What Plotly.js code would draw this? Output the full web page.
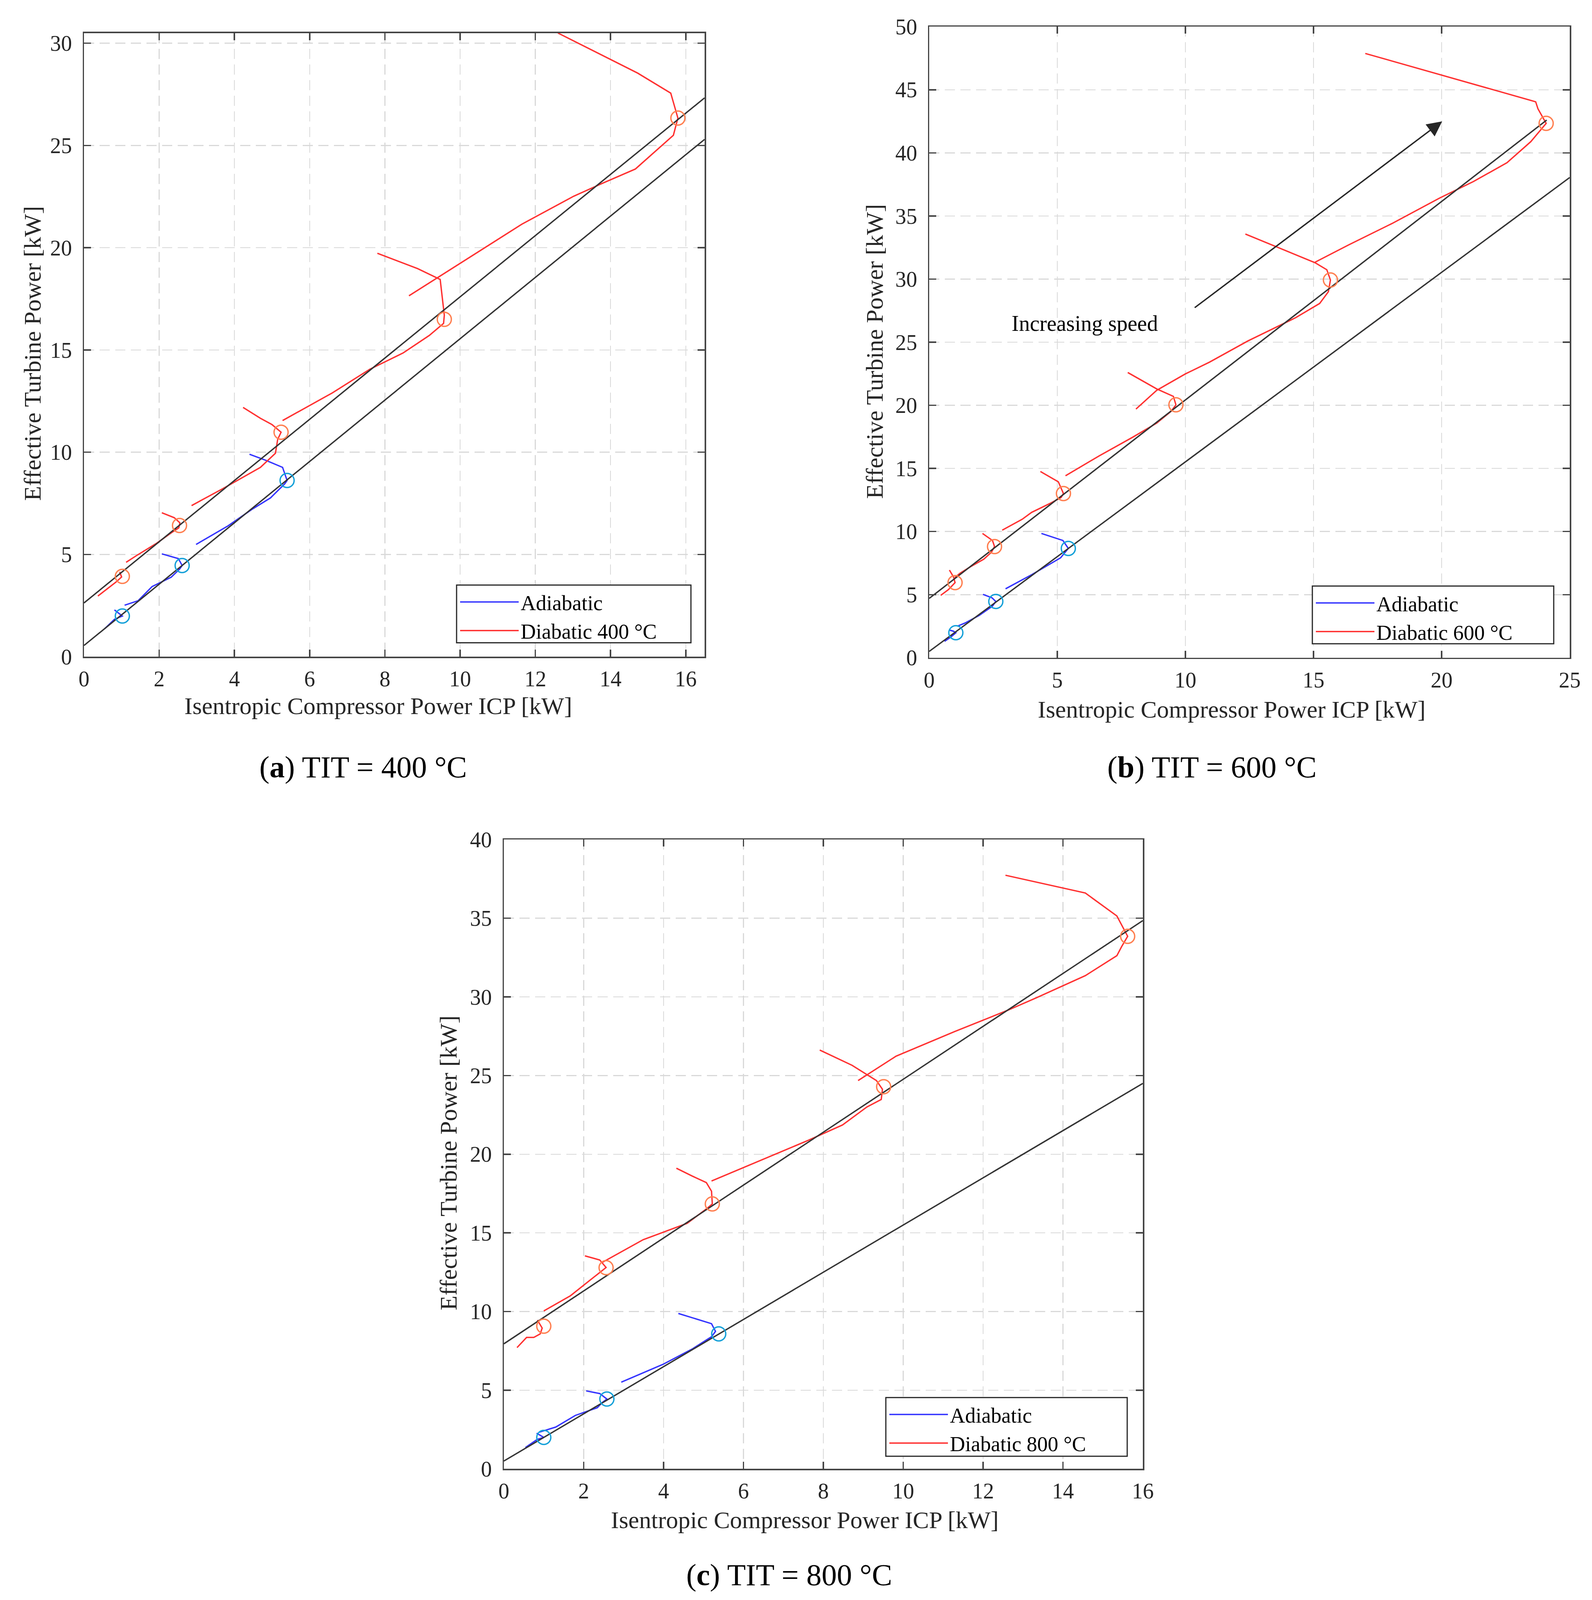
<!DOCTYPE html>
<html>
<head>
<meta charset="utf-8">
<script src="https://cdn.plot.ly/plotly-3.0.1.min.js"></script>
<style>html,body{margin:0;padding:0;background:#fff;overflow:hidden;}</style>
</head>
<body>
<div id="chart" style="width:4076px;height:4096px;"></div>
<script>
// ---------- Panel (a) TIT = 400 °C ----------
const a_adi_x = [[0.55,0.81,1.02,0.81],[1.08,1.44,1.81,2.32,2.54,2.61,2.51,2.07],[2.98,3.83,4.46,4.96,5.34,5.40,5.28,4.84,4.40]];
const a_adi_y = [[1.37,1.83,1.99,2.29],[2.52,2.74,3.43,3.89,4.28,4.46,4.80,5.03],[5.49,6.40,7.20,7.77,8.46,8.62,9.26,9.60,9.90]];
const a_dia_x = [[0.37,0.60,0.85,1.00,0.95],[1.12,1.40,1.94,2.32,2.52,2.55,2.40,2.07],[2.86,3.70,4.69,5.09,5.15,5.24,5.00,4.69,4.23],[5.28,6.60,7.60,8.49,9.18,9.56,9.58,9.47,8.87,7.80],[8.64,10.38,11.64,13.02,13.72,14.66,15.67,15.79,15.60,14.72,12.60]];
const a_dia_y = [[2.97,3.30,3.65,3.90,4.15],[4.62,4.95,5.56,6.06,6.30,6.55,6.80,7.04],[7.39,8.23,9.26,9.95,10.63,10.98,11.35,11.66,12.19],[11.55,12.90,14.06,14.86,15.71,16.30,16.70,18.45,18.98,19.73],[17.65,19.67,21.15,22.52,23.10,23.85,25.50,26.34,27.56,28.54,30.50]];
const a_adi_cx = [1.02,2.61,5.40], a_adi_cy = [1.99,4.46,8.62];
const a_dia_cx = [1.02,2.54,5.24,9.58,15.79], a_dia_cy = [3.93,6.42,10.98,16.50,26.34];
const a_low_x = [0,16.5], a_low_y = [0.55,25.30];
const a_up_x = [0,16.5], a_up_y = [2.63,27.33];

// ---------- Panel (b) TIT = 600 °C ----------
const b_adi_x = [[0.60,0.85,1.04,0.95,0.78],[1.10,1.40,1.95,2.47,2.60,2.45,2.10],[2.98,4.00,5.13,5.43,5.22,4.38]];
const b_adi_y = [[1.30,1.65,1.98,2.10,2.20],[2.50,2.75,3.35,4.09,4.46,4.75,5.02],[5.46,6.58,7.92,8.66,9.29,9.85]];
const b_dia_x = [[0.45,0.75,0.92,1.01,0.95,0.79],[1.00,1.20,1.60,2.13,2.43,2.55,2.47,2.08],[2.85,3.63,4.00,4.76,5.15,5.24,5.04,4.34],[5.32,6.63,7.94,8.88,9.44,9.63,9.53,8.88,7.75],[8.07,8.88,10.00,10.94,12.43,14.31,15.24,15.58,15.66,15.52,15.06,12.34],[15.06,16.37,18.05,19.93,21.24,22.55,23.48,23.86,24.08,23.76,23.67,17.02]];
const b_dia_y = [[4.94,5.40,5.76,5.95,6.40,6.95],[6.35,6.69,7.20,7.81,8.36,8.81,9.29,9.85],[10.11,10.97,11.52,12.27,12.70,13.01,13.94,14.76],[14.42,15.99,17.47,18.59,19.52,20.04,20.71,21.30,22.60],[19.70,21.19,22.49,23.42,25.09,26.95,28.07,29.00,29.93,30.74,31.30,33.57],[31.34,32.71,34.39,36.43,37.73,39.22,40.89,41.82,42.34,43.49,44.05,47.88]];
const b_adi_cx = [1.04,2.60,5.43], b_adi_cy = [1.98,4.46,8.66];
const b_dia_cx = [1.01,2.55,5.24,9.63,15.66,24.08], b_dia_cy = [5.95,8.81,13.01,20.04,29.93,42.34];
const b_low_x = [0,25], b_low_y = [0.50,38.05];
const b_up_x = [0,24.1], b_up_y = [4.70,42.60];
const b_arrow_from = [10.34,27.70], b_arrow_to = [20.02,42.50];
const b_note_xy = [6.07,26.5];

// ---------- Panel (c) TIT = 800 °C ----------
const c_adi_x = [[0.54,0.84,1.00,0.82],[0.88,1.30,1.79,2.34,2.46,2.58,2.40,2.06],[2.94,3.98,4.71,5.20,5.30,5.20,4.37]];
const c_adi_y = [[1.36,1.88,2.00,2.27],[2.33,2.66,3.40,3.89,4.21,4.44,4.79,4.96],[5.51,6.64,7.61,8.40,8.74,9.23,9.88]];
const c_dia_x = [[0.33,0.57,0.75,0.91,0.96,0.84],[1.00,1.67,2.15,2.46,2.56,2.40,2.03],[2.46,3.49,4.59,5.07,5.22,5.20,5.07,4.71,4.32],[5.20,6.41,7.63,8.48,9.09,9.45,9.48,9.33,8.72,7.91],[8.87,9.82,11.28,12.62,13.35,14.56,15.35,15.47,15.62,15.35,14.56,12.56]];
const c_dia_y = [[7.71,8.36,8.36,8.58,8.95,9.46],[10.04,11.01,11.98,12.60,12.80,13.28,13.54],[13.12,14.57,15.61,16.52,16.84,17.65,18.20,18.62,19.11],[18.30,19.60,20.89,21.86,23.00,23.48,24.13,24.68,25.65,26.62],[24.68,26.23,27.79,29.15,29.96,31.35,32.62,33.20,33.85,35.14,36.60,37.73]];
const c_adi_cx = [1.00,2.58,5.38], c_adi_cy = [2.00,4.44,8.58];
const c_dia_cx = [1.00,2.56,5.22,9.51,15.62], c_dia_cy = [9.07,12.79,16.84,24.29,33.85];
const c_low_x = [0,16], c_low_y = [0.50,24.50];
const c_up_x = [0,16], c_up_y = [7.95,34.85];

// ---------- Labels ----------
const xTitle = 'Isentropic Compressor Power ICP [kW]';
const yTitle = 'Effective Turbine Power [kW]';
const legendAdi = 'Adiabatic';
const legendDia = ['Diabatic 400 °C','Diabatic 600 °C','Diabatic 800 °C'];
const captions = ['(<b>a</b>) TIT = 400 °C','(<b>b</b>) TIT = 600 °C','(<b>c</b>) TIT = 800 °C'];
const noteText = 'Increasing speed';

// ---------- Styling ----------
const W = 4076, H = 4096;        // visible frame
const REF_W = 4076, REF_H = 4797; // reference frame used for proportional placement
const FONT = 'Liberation Serif, Times New Roman, serif';
const BLUE = '#3333ff', RED = '#ff3030', BLUE_C = '#14a0d8', RED_C = '#ff7f50', REF = '#333333';
const px = v => v / REF_W, py = v => 1 - v / REF_H;

const panels = [
  {xa:'x', ya:'y', leg:'legend', adiX:a_adi_x, adiY:a_adi_y, diaX:a_dia_x, diaY:a_dia_y, acx:a_adi_cx, acy:a_adi_cy, dcx:a_dia_cx, dcy:a_dia_cy, lowX:a_low_x, lowY:a_low_y, upX:a_up_x, upY:a_up_y, dia:legendDia[0]},
  {xa:'x2', ya:'y2', leg:'legend2', adiX:b_adi_x, adiY:b_adi_y, diaX:b_dia_x, diaY:b_dia_y, acx:b_adi_cx, acy:b_adi_cy, dcx:b_dia_cx, dcy:b_dia_cy, lowX:b_low_x, lowY:b_low_y, upX:b_up_x, upY:b_up_y, dia:legendDia[1]},
  {xa:'x3', ya:'y3', leg:'legend3', adiX:c_adi_x, adiY:c_adi_y, diaX:c_dia_x, diaY:c_dia_y, acx:c_adi_cx, acy:c_adi_cy, dcx:c_dia_cx, dcy:c_dia_cy, lowX:c_low_x, lowY:c_low_y, upX:c_up_x, upY:c_up_y, dia:legendDia[2]}
];

const traces = [];
panels.forEach(p => {
  p.adiX.forEach((xs, i) => traces.push({x:xs, y:p.adiY[i], xaxis:p.xa, yaxis:p.ya, mode:'lines', name:legendAdi, legend:p.leg, showlegend:i===0, line:{color:BLUE, width:3.5}, hoverinfo:'skip'}));
  p.diaX.forEach((xs, i) => traces.push({x:xs, y:p.diaY[i], xaxis:p.xa, yaxis:p.ya, mode:'lines', name:p.dia, legend:p.leg, showlegend:i===0, line:{color:RED, width:3.5}, hoverinfo:'skip'}));
  traces.push({x:p.lowX, y:p.lowY, xaxis:p.xa, yaxis:p.ya, mode:'lines', showlegend:false, line:{color:REF, width:3.5}, hoverinfo:'skip'});
  traces.push({x:p.upX, y:p.upY, xaxis:p.xa, yaxis:p.ya, mode:'lines', showlegend:false, line:{color:REF, width:3.5}, hoverinfo:'skip'});
  traces.push({x:p.acx, y:p.acy, xaxis:p.xa, yaxis:p.ya, mode:'markers', showlegend:false, marker:{symbol:'circle-open', size:36, color:BLUE_C, line:{width:3.5, color:BLUE_C}}, hoverinfo:'skip'});
  traces.push({x:p.dcx, y:p.dcy, xaxis:p.xa, yaxis:p.ya, mode:'markers', showlegend:false, marker:{symbol:'circle-open', size:36, color:RED_C, line:{width:3.5, color:RED_C}}, hoverinfo:'skip'});
});

function axis(domain, range, dtick, anchor, standoff) {
  return {
    domain: domain, range: range, dtick: dtick, tick0: 0, anchor: anchor,
    showgrid: true, gridcolor: '#d9d9d9', gridwidth: 2.5, griddash: '26px,14px',
    zeroline: false, showline: true, linecolor: '#444444', linewidth: 3.5, mirror: 'ticks',
    ticks: 'inside', ticklen: 18, tickwidth: 3.5, tickcolor: '#444444',
    tickfont: {family: FONT, size: 56, color: '#262626'}, ticklabelstandoff: standoff,
    fixedrange: true
  };
}

const legendCommon = {xanchor:'left', yanchor:'top', bgcolor:'rgba(0,0,0,0)', borderwidth:0,
  font:{family:FONT, size:54, color:'#000000'}, itemwidth:150, tracegroupgap:0};

// legend boxes [left, top, right, bottom] in reference pixels
const legBox = [[1169,1754,1769,1927],[3360,1757,3978,1930],[2268,4190,2886,4366]];

const layout = {
  width: W, height: H, margin: {l:0, r:0, t:0, b:0}, paper_bgcolor:'#ffffff', plot_bgcolor:'#ffffff',
  showlegend: true,
  xaxis:  axis([px(215), px(1804)], [0, 16.5], 2, 'y', 5),
  yaxis:  axis([py(1969), py(99)], [0, 30.5], 5, 'x', 16),
  xaxis2: axis([px(2379), px(4019)], [0, 25], 5, 'y2', 5),
  yaxis2: axis([py(1972), py(80)], [0, 50], 5, 'x2', 16),
  xaxis3: axis([px(1290), px(2926)], [0, 16], 2, 'y3', 5),
  yaxis3: axis([py(4404), py(2517)], [0, 40], 5, 'x3', 16),
  legend:  Object.assign({x:px(legBox[0][0] + 4), y:py(legBox[0][1] + 2)}, legendCommon),
  legend2: Object.assign({x:px(legBox[1][0] + 4), y:py(legBox[1][1] + 2)}, legendCommon),
  legend3: Object.assign({x:px(legBox[2][0] + 4), y:py(legBox[2][1] + 2)}, legendCommon),
  shapes: legBox.map(b => ({type:'rect', xref:'paper', yref:'paper', x0:px(b[0]), x1:px(b[2]), y0:py(b[3]), y1:py(b[1]),
    fillcolor:'#ffffff', line:{color:'#262626', width:3}, layer:'above'})),
  annotations: []
};

const titleFont = {family: FONT, size: 62, color: '#262626'};
const xTitlePos = [[968, 2116], [3153, 2127], [2060, 4557]];
const yTitlePos = [[83, 1060], [2239, 1054], [1148, 3487]];
const capPos = [[930, 2300], [3103, 2300], [2020, 4722]];
for (let i = 0; i < 3; i++) {
  layout.annotations.push({xref:'paper', yref:'paper', x:px(xTitlePos[i][0]), y:py(xTitlePos[i][1]), text:xTitle, showarrow:false, font:titleFont, xanchor:'center', yanchor:'middle'});
  layout.annotations.push({xref:'paper', yref:'paper', x:px(yTitlePos[i][0]), y:py(yTitlePos[i][1]), text:yTitle, showarrow:false, font:titleFont, textangle:-90, xanchor:'center', yanchor:'middle'});
  layout.annotations.push({xref:'paper', yref:'paper', x:px(capPos[i][0]), y:py(capPos[i][1]), text:captions[i], showarrow:false, font:{family:FONT, size:78, color:'#000000'}, xanchor:'center', yanchor:'middle'});
}
layout.annotations.push({xref:'x2', yref:'y2', x:b_arrow_to[0], y:b_arrow_to[1], axref:'x2', ayref:'y2', ax:b_arrow_from[0], ay:b_arrow_from[1], text:'', showarrow:true, arrowhead:2, arrowsize:2.2, arrowwidth:3.5, arrowcolor:'#262626', standoff:0});
layout.annotations.push({xref:'x2', yref:'y2', x:b_note_xy[0], y:b_note_xy[1], text:noteText, showarrow:false, font:{family:FONT, size:56, color:'#000000'}, xanchor:'center', yanchor:'middle'});

Plotly.newPlot('chart', traces, layout, {staticPlot:true, displayModeBar:false});
</script>
</body>
</html>
